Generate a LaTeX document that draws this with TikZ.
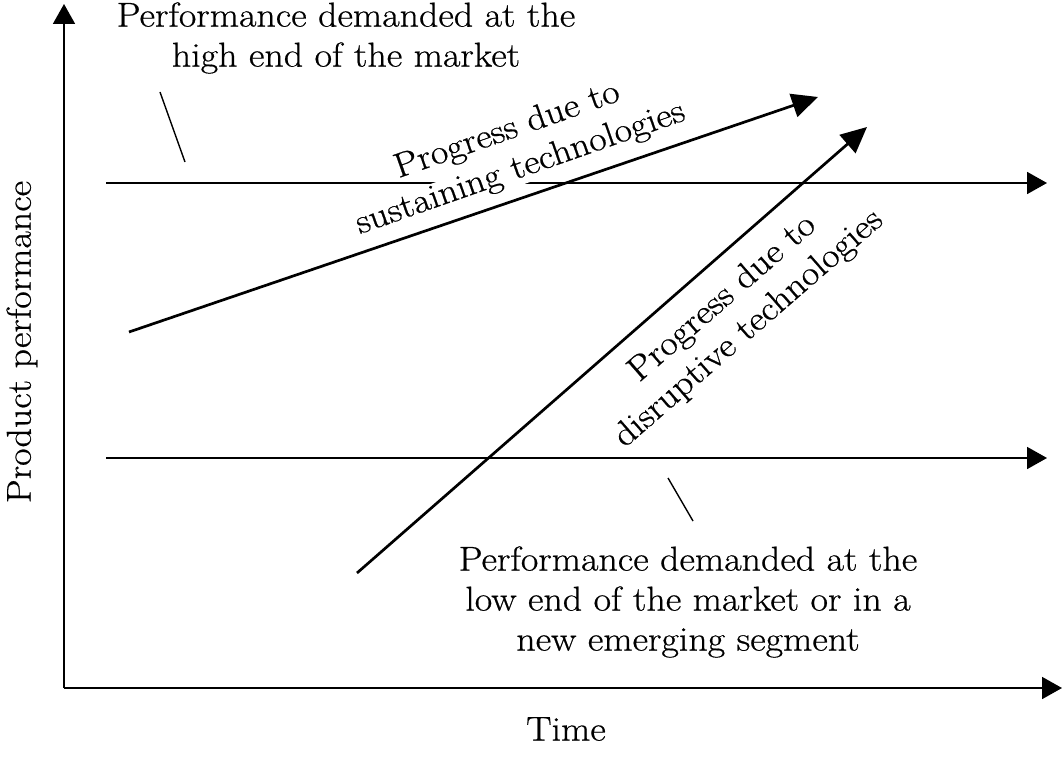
\documentclass[tikz,border=0pt]{standalone}
\usepackage{fontspec}
\setmainfont{Latin Modern Roman}[FakeStretch=1.1,FakeBold=0.6]
\usetikzlibrary{arrows.meta}
\begin{document}
\begin{tikzpicture}[x=1pt,y=-1pt,
  lbl/.style={font=\fontsize{34.5}{40}\selectfont, align=center, inner sep=0pt},
  axis/.style={line width=1.8pt, -{Triangle[length=20pt,width=22pt]}},
  prog/.style={line width=2.7pt, -{Triangle[length=26pt,width=24pt]}},
  lead/.style={line width=1.4pt}]
\useasboundingbox (0,0) rectangle (1062,762);
% coordinates
\coordinate (O) at (64,688);
\coordinate (Ytop) at (64,4);
\coordinate (Xend) at (1062,688);
\coordinate (Hs) at (106,183);
\coordinate (He) at (1047,183);
\coordinate (Ls) at (106,458);
\coordinate (Le) at (1047,458);
\coordinate (Ss) at (129,332);
\coordinate (Se) at (818,97);
\coordinate (Ds) at (357,573);
\coordinate (De) at (867,127);
\coordinate (T1a) at (160,92);
\coordinate (T1b) at (185,162);
\coordinate (T2a) at (668,478);
\coordinate (T2b) at (693,521);
% axes and levels
\draw[axis] (O) -- (Ytop);
\draw[axis] (O) -- (Xend);
\draw[axis] (Hs) -- (He);
\draw[axis] (Ls) -- (Le);
% labels
\node[lbl] (high) at (346,38) {Performance demanded at the\\high end of the market};
\node[lbl] (low) at (688,602) {Performance demanded at the\\low end of the market or in a\\new emerging segment};
\node[lbl, rotate=90] (ylab) at (22,342) {Product performance};
\node[lbl] (xlab) at (566,729) {Time};
\node[lbl, rotate=19.3] (sust) at (514,150) {Progress due to\\{\fboxsep=0pt\colorbox{white}{sustaining technologies}}};
\node[lbl, rotate=41] (disr) at (736,314) {Progress due to\\disruptive technologies};
% progress arrows
\draw[prog] (Ss) -- (Se);
\draw[prog] (Ds) -- (De);
% leader lines
\draw[lead] (T1a) -- (T1b);
\draw[lead] (T2a) -- (T2b);
\end{tikzpicture}
\end{document}
